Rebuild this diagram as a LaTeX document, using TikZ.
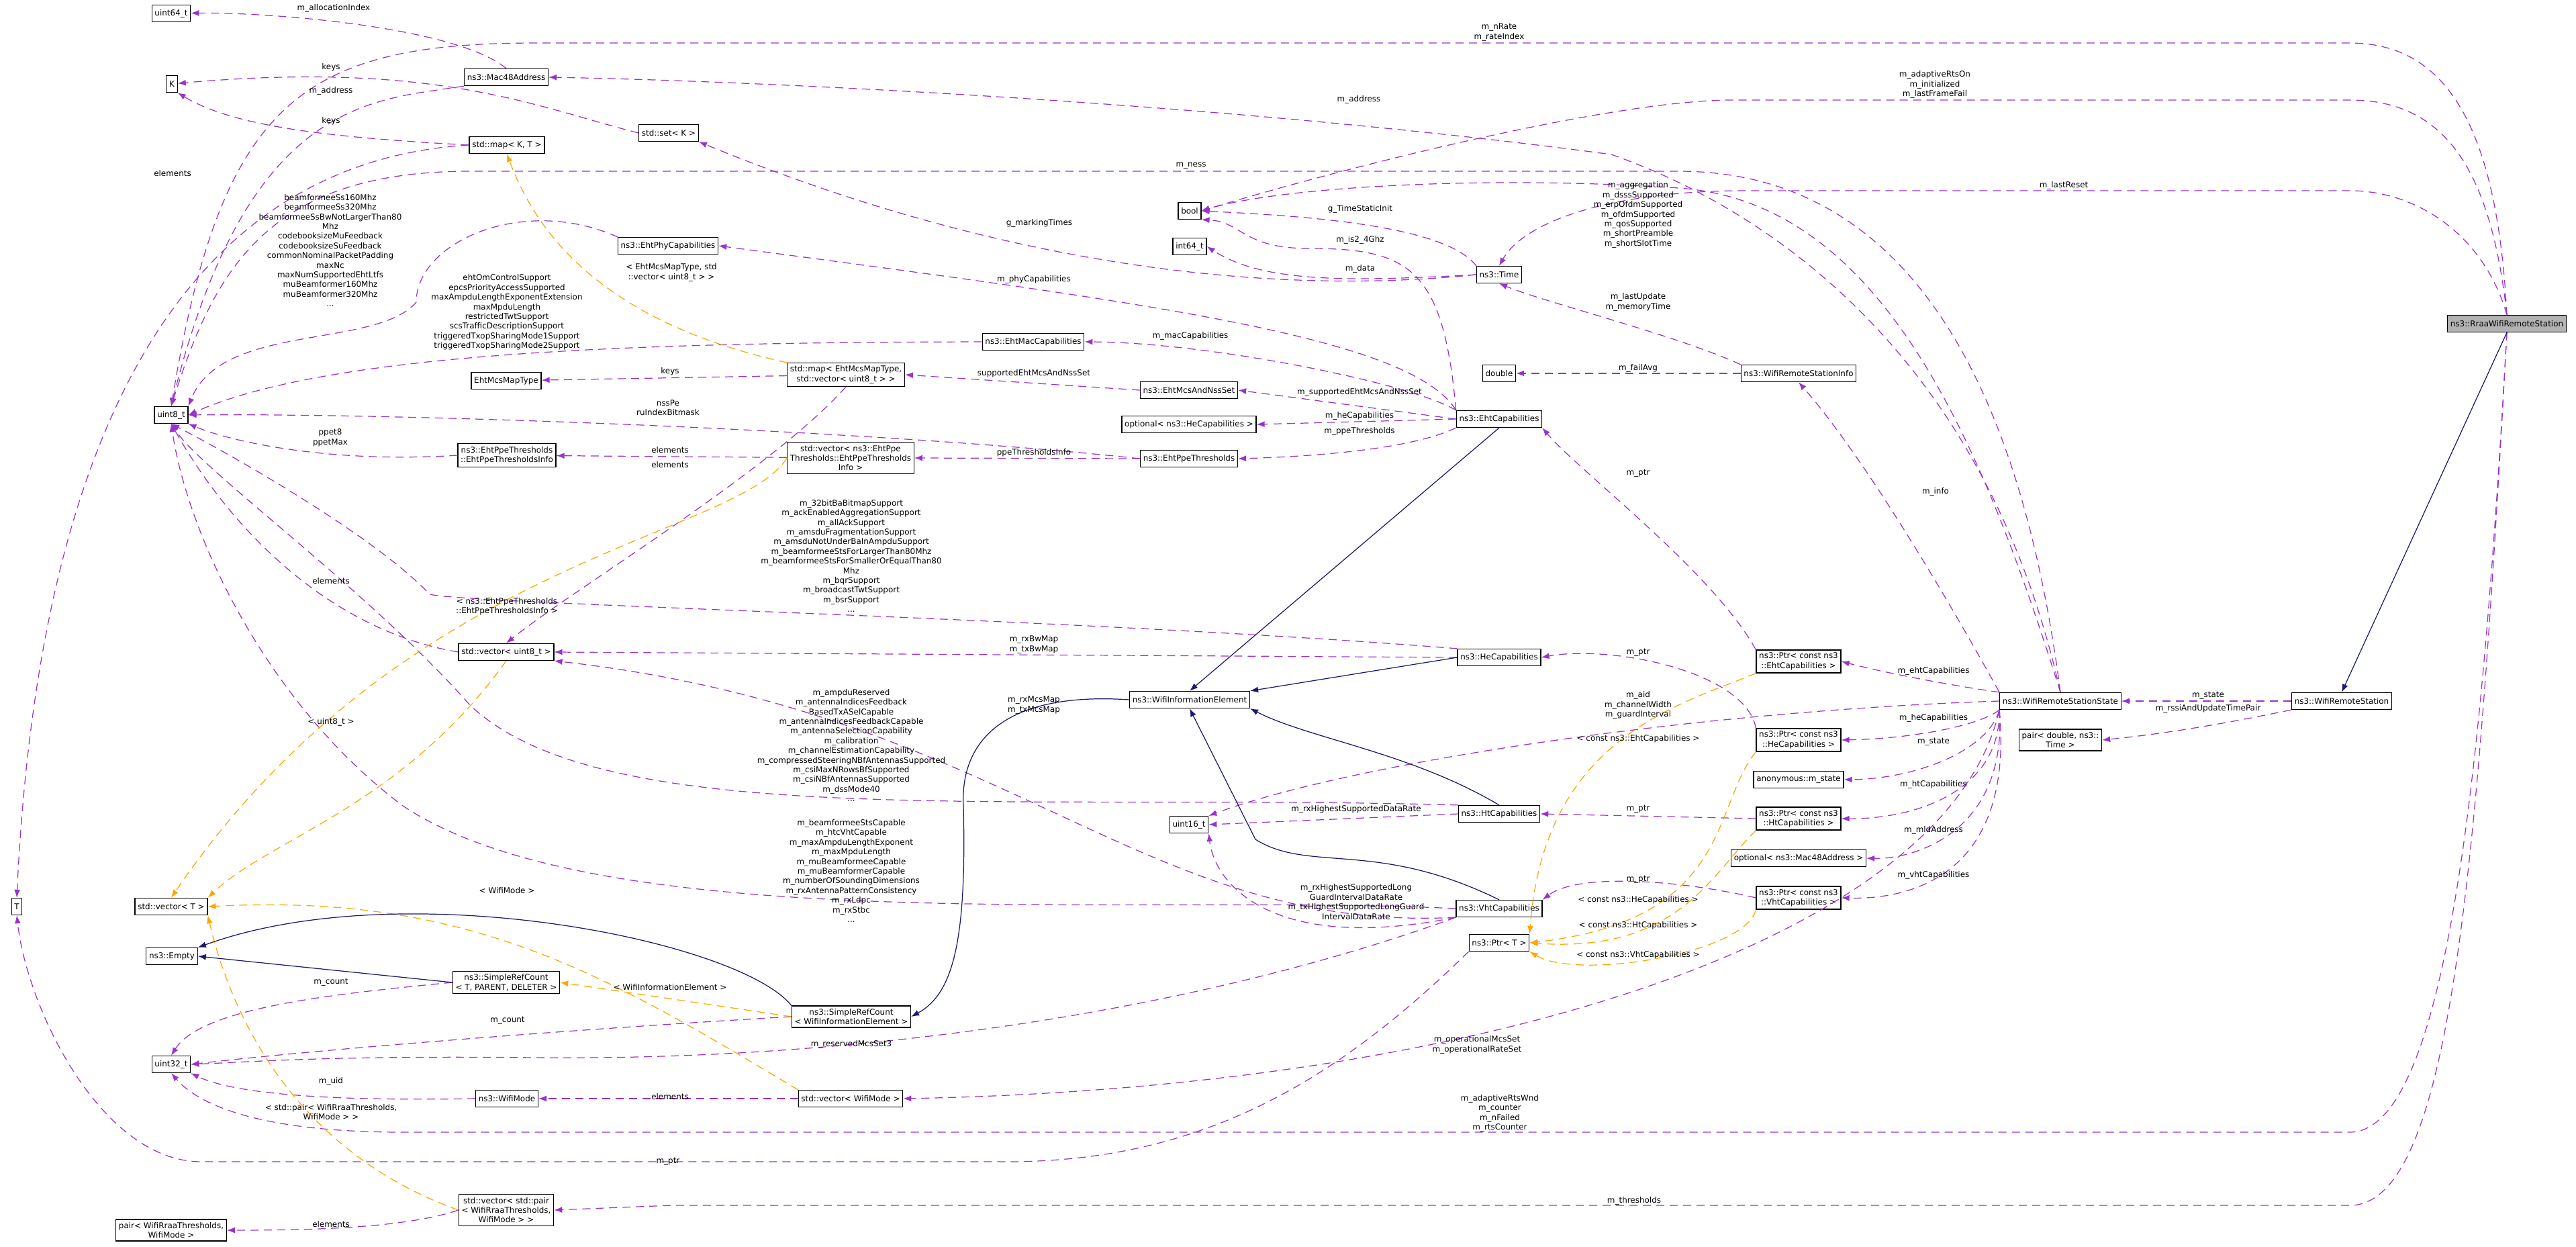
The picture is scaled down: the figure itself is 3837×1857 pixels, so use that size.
\documentclass[tikz,border=0pt]{standalone}
\usepackage{fontspec}
\setmainfont{DejaVu Sans}
\usetikzlibrary{arrows.meta}
\definecolor{depcol}{HTML}{9A32CD}
\definecolor{tplcol}{HTML}{FFA500}
\definecolor{inhcol}{HTML}{191970}
\tikzset{
  box/.style={draw,fill=white,line width=0.35pt,inner sep=1.2pt,minimum height=2.5mm,align=center,font=\fontsize{3.4}{4.1}\selectfont},
  dep/.style={draw=depcol,dashed,dash pattern=on 1.2mm off 0.8mm,line width=0.35pt,-{Latex[length=1.2mm,width=0.9mm]}},
  tpl/.style={dep,draw=tplcol},
  inh/.style={draw=inhcol,line width=0.35pt,-{Latex[length=1.2mm,width=0.9mm]}},
  lbl/.style={align=center,inner sep=0pt,font=\fontsize{3.4}{4.1}\selectfont}
}
\begin{document}
\begin{tikzpicture}[x=0.1mm,y=-0.1mm]
\useasboundingbox (0,0) rectangle (3837,1857);
% classes
\node[box] (uisf) at (255,20) {uint64\_t};
\node[box] (K) at (256,125) {K};
\node[box] (macaddr) at (754,115) {ns3::Mac48Address};
\node[box] (stdset) at (996,198) {std::set< K >};
\node[box] (stdmap) at (755,216) {std::map< K, T >};
\node[box] (ehtphy) at (995,366) {ns3::EhtPhyCapabilities};
\node[box] (mcsmaptype) at (754,567) {EhtMcsMapType};
\node[box] (mcsmap) at (1260,558) {std::map< EhtMcsMapType,\\std::vector< uint8\_t > >};
\node[box] (uieight) at (255,618) {uint8\_t};
\node[box] (ppeinfo) at (755,678) {ns3::EhtPpeThresholds\\::EhtPpeThresholdsInfo};
\node[box] (ppevec) at (1267,682) {std::vector< ns3::EhtPpe\\Thresholds::EhtPpeThresholds\\Info >};
\node[box] (ui8vec) at (754,971) {std::vector< uint8\_t >};
\node[box] (T) at (25,1350) {T};
\node[box] (tvec) at (255,1350) {std::vector< T >};
\node[box] (empty) at (256,1424) {ns3::Empty};
\node[box] (srcgen) at (754,1463) {ns3::SimpleRefCount\\< T, PARENT, DELETER >};
\node[box] (srcwie) at (1268,1514) {ns3::SimpleRefCount\\< WifiInformationElement >};
\node[box] (uitt) at (255,1585) {uint32\_t};
\node[box] (wifimode) at (755,1636) {ns3::WifiMode};
\node[box] (modevec) at (1267,1636) {std::vector< WifiMode >};
\node[box] (pairvec) at (754,1802) {std::vector< std::pair\\< WifiRraaThresholds,\\WifiMode > >};
\node[box] (rraapair) at (255,1832) {pair< WifiRraaThresholds,\\WifiMode >};
\node[box] (bool) at (1772,314) {bool};
\node[box] (intsf) at (1772,367) {int64\_t};
\node[box] (time) at (2233,409) {ns3::Time};
\node[box] (ehtmac) at (1539,509) {ns3::EhtMacCapabilities};
\node[box] (mcsnss) at (1771,581) {ns3::EhtMcsAndNssSet};
\node[box] (opthe) at (1771,632) {optional< ns3::HeCapabilities >};
\node[box] (ppethr) at (1771,683) {ns3::EhtPpeThresholds};
\node[box] (ehtcap) at (2233,624) {ns3::EhtCapabilities};
\node[box] (double) at (2233,556) {double};
\node[box] (stinfo) at (2679,556) {ns3::WifiRemoteStationInfo};
\node[box,fill=black!30] (rraa) at (3734,482) {ns3::RraaWifiRemoteStation};
\node[box] (ptreht) at (2679,985) {ns3::Ptr< const ns3\\::EhtCapabilities >};
\node[box] (ststate) at (3069,1044) {ns3::WifiRemoteStationState};
\node[box] (station) at (3488,1044) {ns3::WifiRemoteStation};
\node[box] (pairdt) at (3069,1102) {pair< double, ns3::\\Time >};
\node[box] (hecap) at (2233,979) {ns3::HeCapabilities};
\node[box] (ptrhe) at (2679,1102) {ns3::Ptr< const ns3\\::HeCapabilities >};
\node[box] (anon) at (2679,1161) {anonymous::m\_state};
\node[box] (htcap) at (2233,1212) {ns3::HtCapabilities};
\node[box] (ptrht) at (2679,1219) {ns3::Ptr< const ns3\\::HtCapabilities >};
\node[box] (optmac) at (2679,1278) {optional< ns3::Mac48Address >};
\node[box] (vhtcap) at (2233,1353) {ns3::VhtCapabilities};
\node[box] (ptrvht) at (2679,1337) {ns3::Ptr< const ns3\\::VhtCapabilities >};
\node[box] (ptrT) at (2233,1404) {ns3::Ptr< T >};
\node[box] (wie) at (1772,1042) {ns3::WifiInformationElement};
\node[box] (uisixteen) at (1771,1228) {uint16\_t};

% usage relations
\draw[dep] (macaddr.north) .. controls (680,40) and (400,18) .. (uisf);
\draw[dep] (stdset.west) .. controls (800,160) and (650,90) .. (K);
\draw[dep] (stdmap.west) .. controls (500,205) and (350,190) .. (K.south east);
\draw[dep] (macaddr.south west) .. controls (560,150) and (370,140) .. (uieight.north);
\draw[dep] (stdmap.west) .. controls (300,240) and (60,600) .. (T.north);
\draw[dep] (ehtphy.north west) .. controls (780,290) and (620,360) .. (620,450) .. controls (560,520) and (330,480) .. (uieight.north east);
\draw[dep] (ehtmac.west) .. controls (1000,510) and (500,520) .. (uieight.east);
\draw[dep] (mcsmap) -- (mcsmaptype);
\draw[dep] (ppethr.west) .. controls (1300,640) and (600,615) .. (uieight.east);
\draw[dep] (ppevec) -- (ppeinfo);
\draw[dep] (ppeinfo.west) .. controls (500,690) and (350,660) .. (uieight.south east);
\draw[dep] (ui8vec.west) .. controls (500,940) and (350,800) .. (uieight.south);
\draw[dep] (mcsmap.south) .. controls (1150,700) and (850,880) .. (ui8vec.north);
\draw[dep] (hecap.north west) .. controls (1600,920) and (700,900) .. (640,885) .. controls (560,800) and (350,680) .. (uieight.south);
\draw[dep] (hecap.west) -- (ui8vec.east);
\draw[dep] (htcap.north west) .. controls (1500,1180) and (900,1240) .. (700,1050) .. controls (550,880) and (300,700) .. (uieight.south);
\draw[dep] (vhtcap.west) .. controls (1700,1330) and (900,1400) .. (600,1200) .. controls (400,1050) and (280,800) .. (uieight.south);
\draw[dep] (vhtcap.south west) .. controls (1700,1390) and (1500,1060) .. (ui8vec.south east);
\draw[dep] (htcap.west) -- (uisixteen.east);
\draw[dep] (vhtcap.south west) .. controls (1900,1420) and (1810,1320) .. (uisixteen.south east);
\draw[dep] (ststate.west) .. controls (2500,1060) and (2000,1140) .. (uisixteen.north east);
\draw[dep] (srcgen.west) .. controls (500,1480) and (300,1500) .. (uitt.north);
\draw[dep] (srcwie.west) .. controls (900,1530) and (500,1560) .. (uitt.east);
\draw[dep] (vhtcap.south west) .. controls (1800,1500) and (1300,1580) .. (800,1575) .. controls (500,1572) and (400,1580) .. (uitt.east);
\draw[dep] (wifimode.west) .. controls (500,1640) and (350,1630) .. (uitt.south east);
\draw[dep] (modevec) -- (wifimode);
\draw[dep] (ststate.south west) .. controls (2900,1400) and (2200,1620) .. (modevec.east);
\draw[dep] (rraa.south) .. controls (3700,1100) and (3650,1686) .. (3500,1686) -- (600,1686) .. controls (400,1686) and (300,1650) .. (uitt.south);
\draw[dep] (ptrT.south west) .. controls (2000,1600) and (1800,1730) .. (1500,1730) -- (300,1730) .. controls (150,1730) and (40,1500) .. (T.south);
\draw[dep] (rraa.south) .. controls (3690,1300) and (3650,1795) .. (3500,1795) -- (1000,1795) -- (pairvec.east);
\draw[dep] (pairvec.west) .. controls (600,1830) and (450,1832) .. (rraapair.east);
\draw[dep] (ststate.north) .. controls (2950,500) and (2600,300) .. (2400,230) .. controls (1800,150) and (1100,120) .. (macaddr.east);
\draw[dep] (rraa.north) .. controls (3720,200) and (3650,64) .. (3500,64) -- (800,64) .. controls (450,64) and (330,150) .. (uieight.north);
\draw[dep] (rraa.north) .. controls (3710,250) and (3640,149) .. (3500,149) -- (2580,149) .. controls (2400,149) and (2000,250) .. (bool.east);
\draw[dep] (ststate.north) .. controls (3000,500) and (2800,255) .. (2500,255) -- (700,255) .. controls (400,255) and (320,400) .. (uieight.north);
\draw[dep] (ststate.north) .. controls (2950,650) and (2800,300) .. (2500,280) .. controls (2200,260) and (1900,280) .. (bool.east);
\draw[dep] (rraa.north) .. controls (3700,350) and (3600,284) .. (3500,284) -- (2600,284) .. controls (2400,284) and (2270,330) .. (time.north);
\draw[dep] (time.north west) .. controls (2150,330) and (1900,320) .. (bool.east);
\draw[dep] (ehtcap.north west) .. controls (2150,400) and (2100,370) .. (1950,370) .. controls (1850,370) and (1850,330) .. (bool.south east);
\draw[dep] (time.west) .. controls (2000,420) and (1880,420) .. (intsf.east);
\draw[dep] (time.west) .. controls (1900,440) and (1500,400) .. (stdset.south east);
\draw[dep] (ehtcap.north west) .. controls (2100,500) and (1700,450) .. (ehtphy.east);
\draw[dep] (ehtcap.north west) .. controls (2100,570) and (1800,510) .. (ehtmac.east);
\draw[dep] (mcsnss.west) -- (mcsmap.east);
\draw[dep] (ehtcap.west) -- (mcsnss.east);
\draw[dep] (ehtcap.west) -- (opthe.east);
\draw[dep] (ehtcap.south west) .. controls (2100,670) and (1950,680) .. (ppethr.east);
\draw[dep] (ppethr.west) -- (ppevec.east);
\draw[dep] (stinfo.north west) .. controls (2500,500) and (2300,450) .. (time.south);
\draw[dep] (stinfo) -- (double);
\draw[dep] (ststate.north west) .. controls (2850,800) and (2750,650) .. (stinfo.south);
\draw[dep] (ptreht.north west) .. controls (2550,850) and (2350,700) .. (ehtcap.south east);
\draw[dep] (ptrhe.north west) .. controls (2600,1000) and (2400,960) .. (hecap.east);
\draw[dep] (ptrht.west) -- (htcap.east);
\draw[dep] (ptrvht.west) .. controls (2500,1310) and (2350,1300) .. (vhtcap.north east);
\draw[dep] (ststate.north west) .. controls (2900,1020) and (2800,1000) .. (ptreht.east);
\draw[dep] (ststate.south west) .. controls (2950,1080) and (2850,1100) .. (ptrhe.east);
\draw[dep] (ststate.south west) .. controls (2960,1120) and (2850,1160) .. (anon.east);
\draw[dep] (ststate.south west) .. controls (2980,1180) and (2850,1220) .. (ptrht.east);
\draw[dep] (ststate.south west) .. controls (2990,1240) and (2850,1280) .. (optmac.east);
\draw[dep] (ststate.south west) .. controls (3000,1300) and (2850,1340) .. (ptrvht.east);
\draw[dep] (station) -- (ststate);
\draw[dep] (station.south west) .. controls (3350,1070) and (3250,1090) .. (pairdt.east);

% template instances
\draw[tpl] (mcsmap.north west) .. controls (900,480) and (800,350) .. (stdmap.south);
\draw[tpl] (ppevec.west) .. controls (1100,800) and (600,830) .. (tvec.north);
\draw[tpl] (ui8vec.south) .. controls (600,1200) and (400,1250) .. (tvec.north east);
\draw[tpl] (modevec.north west) .. controls (900,1450) and (700,1330) .. (tvec.east);
\draw[tpl] (pairvec.west) .. controls (400,1700) and (330,1450) .. (tvec.south east);
\draw[tpl] (srcwie.west) -- (srcgen.east);
\draw[tpl] (ptreht.south west) .. controls (2500,1050) and (2300,1100) .. (ptrT.north east);
\draw[tpl] (ptrhe.south west) .. controls (2550,1200) and (2580,1370) .. (ptrT.east);
\draw[tpl] (ptrht.south west) .. controls (2550,1300) and (2500,1420) .. (ptrT.east);
\draw[tpl] (ptrvht.south west) .. controls (2600,1420) and (2350,1460) .. (ptrT.south east);

% inheritance
\draw[inh] (ehtcap.south) -- (wie.north);
\draw[inh] (hecap.west) -- (wie.north east);
\draw[inh] (htcap.north) .. controls (2100,1120) and (1950,1100) .. (wie.south east);
\draw[inh] (vhtcap.north) .. controls (2050,1250) and (1950,1300) .. (1870,1250) -- (wie.south);
\draw[inh] (wie.west) .. controls (1500,1030) and (1430,1100) .. (1435,1200) .. controls (1440,1400) and (1420,1480) .. (srcwie.east);
\draw[inh] (srcgen.west) -- (empty.east);
\draw[inh] (srcwie.north west) .. controls (1100,1400) and (600,1300) .. (empty.north east);
\draw[inh] (rraa.south) -- (station.north);

% labels
\node[lbl] at (497,12) {m\_allocationIndex};
\node[lbl] at (493,100) {keys};
\node[lbl] at (493,135) {m\_address};
\node[lbl] at (493,180) {keys};
\node[lbl] at (257,258) {elements};
\node[lbl] at (492,373) {beamformeeSs160Mhz\\beamformeeSs320Mhz\\beamformeeSsBwNotLargerThan80\\Mhz\\codebooksizeMuFeedback\\codebooksizeSuFeedback\\commonNominalPacketPadding\\maxNc\\maxNumSupportedEhtLtfs\\muBeamformer160Mhz\\muBeamformer320Mhz\\...};
\node[lbl] at (755,465) {ehtOmControlSupport\\epcsPriorityAccessSupported\\maxAmpduLengthExponentExtension\\maxMpduLength\\restrictedTwtSupport\\scsTrafficDescriptionSupport\\triggeredTxopSharingMode1Support\\triggeredTxopSharingMode2Support};
\node[lbl] at (1000,406) {< EhtMcsMapType, std\\::vector< uint8\_t > >};
\node[lbl] at (998,553) {keys};
\node[lbl] at (995,607) {nssPe\\ruIndexBitmask};
\node[lbl] at (492,652) {ppet8\\ppetMax};
\node[lbl] at (998,670) {elements};
\node[lbl] at (998,692) {elements};
\node[lbl] at (493,865) {elements};
\node[lbl] at (755,903) {< ns3::EhtPpeThresholds\\::EhtPpeThresholdsInfo >};
\node[lbl] at (1268,828) {m\_32bitBaBitmapSupport\\m\_ackEnabledAggregationSupport\\m\_allAckSupport\\m\_amsduFragmentationSupport\\m\_amsduNotUnderBaInAmpduSupport\\m\_beamformeeStsForLargerThan80Mhz\\m\_beamformeeStsForSmallerOrEqualThan80\\Mhz\\m\_bqrSupport\\m\_broadcastTwtSupport\\m\_bsrSupport\\...};
\node[lbl] at (1540,960) {m\_rxBwMap\\m\_txBwMap};
\node[lbl] at (493,1075) {< uint8\_t >};
\node[lbl] at (1268,1110) {m\_ampduReserved\\m\_antennaIndicesFeedback\\BasedTxASelCapable\\m\_antennaIndicesFeedbackCapable\\m\_antennaSelectionCapability\\m\_calibration\\m\_channelEstimationCapability\\m\_compressedSteeringNBfAntennasSupported\\m\_csiMaxNRowsBfSupported\\m\_csiNBfAntennasSupported\\m\_dssMode40\\...};
\node[lbl] at (1540,1050) {m\_rxMcsMap\\m\_txMcsMap};
\node[lbl] at (1268,1297) {m\_beamformeeStsCapable\\m\_htcVhtCapable\\m\_maxAmpduLengthExponent\\m\_maxMpduLength\\m\_muBeamformeeCapable\\m\_muBeamformerCapable\\m\_numberOfSoundingDimensions\\m\_rxAntennaPatternConsistency\\m\_rxLdpc\\m\_rxStbc\\...};
\node[lbl] at (755,1326) {< WifiMode >};
\node[lbl] at (2020,1205) {m\_rxHighestSupportedDataRate};
\node[lbl] at (2020,1343) {m\_rxHighestSupportedLong\\GuardIntervalDataRate\\m\_txHighestSupportedLongGuard\\IntervalDataRate};
\node[lbl] at (2440,1050) {m\_aid\\m\_channelWidth\\m\_guardInterval};
\node[lbl] at (493,1463) {m\_count};
\node[lbl] at (998,1470) {< WifiInformationElement >};
\node[lbl] at (756,1520) {m\_count};
\node[lbl] at (1268,1555) {m\_reservedMcsSet3};
\node[lbl] at (493,1610) {m\_uid};
\node[lbl] at (998,1633) {elements};
\node[lbl] at (493,1656) {< std::pair< WifiRraaThresholds,\\WifiMode > >};
\node[lbl] at (2200,1556) {m\_operationalMcsSet\\m\_operationalRateSet};
\node[lbl] at (2234,1658) {m\_adaptiveRtsWnd\\m\_counter\\m\_nFailed\\m\_rtsCounter};
\node[lbl] at (995,1730) {m\_ptr};
\node[lbl] at (2434,1788) {m\_thresholds};
\node[lbl] at (493,1823) {elements};
\node[lbl] at (2024,148) {m\_address};
\node[lbl] at (2233,48) {m\_nRate\\m\_rateIndex};
\node[lbl] at (2882,126) {m\_adaptiveRtsOn\\m\_initialized\\m\_lastFrameFail};
\node[lbl] at (1774,247) {m\_ness};
\node[lbl] at (2440,320) {m\_aggregation\\m\_dsssSupported\\m\_erpOfdmSupported\\m\_ofdmSupported\\m\_qosSupported\\m\_shortPreamble\\m\_shortSlotTime};
\node[lbl] at (3074,276) {m\_lastReset};
\node[lbl] at (2026,311) {g\_TimeStaticInit};
\node[lbl] at (2026,357) {m\_is2\_4Ghz};
\node[lbl] at (2026,400) {m\_data};
\node[lbl] at (1548,332) {g\_markingTimes};
\node[lbl] at (1540,416) {m\_phyCapabilities};
\node[lbl] at (1773,500) {m\_macCapabilities};
\node[lbl] at (1540,556) {supportedEhtMcsAndNssSet};
\node[lbl] at (2025,584) {m\_supportedEhtMcsAndNssSet};
\node[lbl] at (2025,619) {m\_heCapabilities};
\node[lbl] at (2025,642) {m\_ppeThresholds};
\node[lbl] at (1540,674) {ppeThresholdsInfo};
\node[lbl] at (2440,450) {m\_lastUpdate\\m\_memoryTime};
\node[lbl] at (2440,548) {m\_failAvg};
\node[lbl] at (2883,732) {m\_info};
\node[lbl] at (2440,705) {m\_ptr};
\node[lbl] at (2440,972) {m\_ptr};
\node[lbl] at (2440,1205) {m\_ptr};
\node[lbl] at (2440,1310) {m\_ptr};
\node[lbl] at (2880,999) {m\_ehtCapabilities};
\node[lbl] at (2880,1069) {m\_heCapabilities};
\node[lbl] at (2880,1105) {m\_state};
\node[lbl] at (2880,1168) {m\_htCapabilities};
\node[lbl] at (2880,1236) {m\_mldAddress};
\node[lbl] at (2880,1303) {m\_vhtCapabilities};
\node[lbl] at (3289,1036) {m\_state};
\node[lbl] at (3289,1055) {m\_rssiAndUpdateTimePair};
\node[lbl] at (2440,1100) {< const ns3::EhtCapabilities >};
\node[lbl] at (2440,1340) {< const ns3::HeCapabilities >};
\node[lbl] at (2440,1378) {< const ns3::HtCapabilities >};
\node[lbl] at (2440,1422) {< const ns3::VhtCapabilities >};
\end{tikzpicture}
\end{document}
